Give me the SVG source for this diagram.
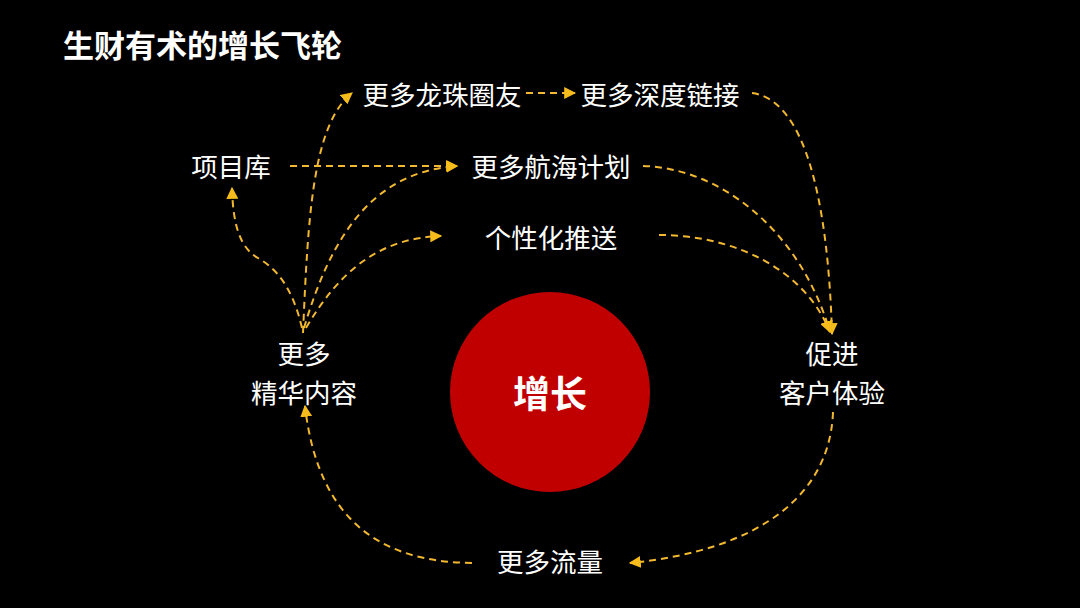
<svg xmlns="http://www.w3.org/2000/svg" width="1080" height="608" viewBox="0 0 1080 608">
<defs>
<style>
.t{font-family:"Noto Sans CJK SC","Noto Sans",sans-serif;fill:#fff;font-size:26.5px;text-anchor:middle;dominant-baseline:central}
.c{fill:none;stroke:#F2B830;stroke-width:2;stroke-dasharray:7 5}
</style>
<marker id="ah" viewBox="0 0 10 10" refX="9" refY="5" markerWidth="6" markerHeight="6" orient="auto" markerUnits="strokeWidth">
<path d="M0,0 L10,5 L0,10 z" fill="#F5BC1C"/>
</marker>
</defs>
<rect width="1080" height="608" fill="#000"/>
<text x="63" y="43" style="font-family:'Noto Sans CJK SC',sans-serif;font-weight:bold;font-size:31px;fill:#fff;dominant-baseline:central">生财有术的增长飞轮</text>

<g id="connectors">
<path class="c" d="M526,93 L575,93" marker-end="url(#ah)"/>
<path class="c" d="M290,166 L457,166" marker-end="url(#ah)"/>
<path class="c" d="M303,333 C308,220 312,125 352,93" marker-end="url(#ah)"/>
<path class="c" d="M302,328 C292,285 275,268 258,258 C240,248 233,225 232,188" marker-end="url(#ah)"/>
<path class="c" d="M304,328 C330,240 370,172 457,166" marker-end="url(#ah)"/>
<path class="c" d="M306,328 C340,270 380,238 441,236" marker-end="url(#ah)"/>
<path class="c" d="M752,93 C805,100 828,200 832,334" marker-end="url(#ah)"/>
<path class="c" d="M643,166 C720,168 800,230 830,332" marker-end="url(#ah)"/>
<path class="c" d="M659,235 C735,235 805,270 830,332" marker-end="url(#ah)"/>
<path class="c" d="M833,412 C830,495 760,550 630,563" marker-end="url(#ah)"/>
<path class="c" d="M472,563 C380,562 318,520 305,406" marker-end="url(#ah)"/>
</g>

<g id="growth">
<circle cx="550" cy="392" r="100" fill="#C00000"/>
<text class="t" x="550" y="392" style="font-size:37px;font-weight:bold">增长</text>
</g>
<g id="longzhu"><text class="t" x="442" y="93">更多龙珠圈友</text></g>
<g id="shendu"><text class="t" x="660" y="93">更多深度链接</text></g>
<g id="xiangmu"><text class="t" x="231" y="165">项目库</text></g>
<g id="hanghai"><text class="t" x="551" y="165">更多航海计划</text></g>
<g id="tuisong"><text class="t" x="551" y="236">个性化推送</text></g>
<g id="neirong"><text class="t" x="304" y="352">更多<tspan x="304" dy="39">精华内容</tspan></text></g>
<g id="tiyan"><text class="t" x="832" y="352">促进<tspan x="832" dy="39">客户体验</tspan></text></g>
<g id="liuliang"><text class="t" x="550" y="560">更多流量</text></g>
</svg>
